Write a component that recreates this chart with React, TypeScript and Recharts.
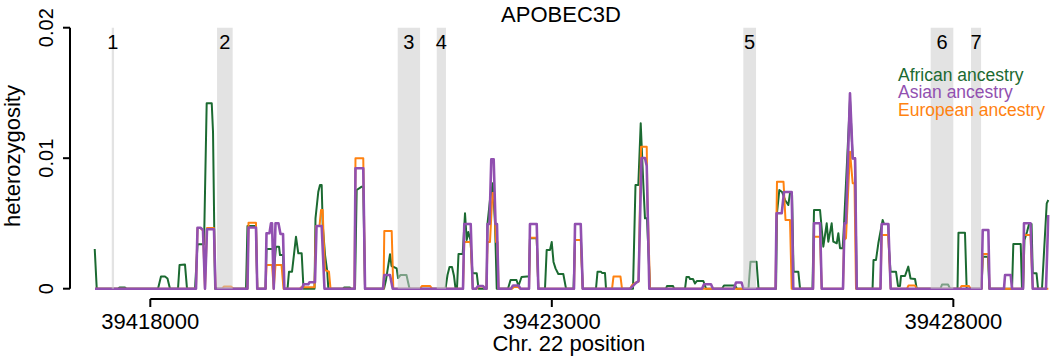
import React from 'react';
import { LineChart, Line, XAxis, YAxis, ReferenceArea, ReferenceLine, Label } from 'recharts';

// heterozygosity along the window, one position/value pair per vertex
const AFR_POS = [
  39417308, 39417333, 39417598, 39417616, 39417685, 39417704, 39418096, 39418133, 39418183, 39418214, 39418245,
  39418345, 39418364, 39418432, 39418457, 39418557, 39418588, 39418669, 39418702, 39418765, 39418781, 39418806,
  39419192, 39419210, 39419316, 39419332, 39419435, 39419447, 39419528, 39419540, 39419565, 39419603, 39419615, 39419653, 39419665,
  39419709, 39419727, 39419765, 39419814, 39419843, 39419885, 39419908,
  39420045, 39420057, 39420092, 39420113, 39420134, 39420147, 39420176, 39420204, 39420217,
  39420400, 39420412, 39420487, 39420499,
  39420549, 39420570, 39420633, 39420652, 39420674,
  39420910, 39420935, 39420985, 39421004, 39421068, 39421085, 39421116, 39421190, 39421228,
  39421676, 39421701, 39421726, 39421757, 39421782, 39421801,
  39421819, 39421838, 39421890, 39421919, 39421940, 39421960, 39421987, 39422012, 39422065, 39422087,
  39422187, 39422199, 39422230, 39422264, 39422293, 39422314,
  39422454, 39422486, 39422560, 39422585, 39422623, 39422691, 39422716, 39422728, 39422812, 39422832,
  39422915, 39422936, 39422977, 39422999, 39423021, 39423046, 39423081, 39423143, 39423177,
  39423270, 39423289, 39423363, 39423385,
  39423550, 39423569, 39423613, 39423625, 39423662, 39423675,
  39424011, 39424042, 39424077, 39424107, 39424139, 39424160, 39424185, 39424223,
  39424422, 39424435, 39424509, 39424522,
  39424659, 39424677, 39424708, 39424721, 39424758, 39424783, 39424808, 39424887, 39424920,
  39425119, 39425144, 39425281, 39425306,
  39425449, 39425474, 39425549, 39425574,
  39425792, 39425804, 39425833, 39425867, 39425904, 39425945, 39425966, 39425991, 39426010, 39426070, 39426091,
  39426246, 39426265, 39426340, 39426381, 39426423, 39426443, 39426485, 39426505, 39426548, 39426568, 39426589, 39426622,
  39426639, 39426713, 39426747, 39426776, 39426797,
  39426994, 39427006, 39427037, 39427066, 39427120, 39427137, 39427190, 39427199, 39427218, 39427286, 39427311, 39427336,
  39427348, 39427398, 39427439, 39427467, 39427523, 39427544,
  39427840, 39427859, 39427934, 39427959,
  39428052, 39428064, 39428145, 39428166,
  39428351, 39428366, 39428432, 39428448,
  39428731, 39428747, 39428839, 39428855,
  39428868, 39428886, 39428917, 39428943, 39428974, 39428989, 39429036, 39429055, 39429104, 39429163, 39429183,
];
const AFR_HET = [
  0.00304, 0, 0, 0.00009, 0.00009, 0, 0, 0.00093, 0.00093, 0.00078, 0,
  0, 0.00182, 0.00185, 0, 0, 0.0034, 0.0034, 0.01421, 0.01421, 0.01201, 0,
  0, 0.0048, 0.0048, 0, 0, 0.00304, 0.00304, 0.00143, 0.00322, 0.00322, 0.00258, 0.00258, 0,
  0, 0.0013, 0.0013, 0.00398, 0.00271, 0.00271, 0,
  0, 0.00539, 0.00743, 0.00795, 0.00795, 0.00488, 0.00258, 0.00128, 0,
  0, 0.00009, 0.00009, 0,
  0, 0.00756, 0.00782, 0.00782, 0,
  0, 0.00067, 0.00264, 0.00174, 0.00156, 0.00082, 0.00105, 0.00105, 0,
  0, 0.00105, 0.00166, 0.00166, 0.00097, 0,
  0, 0.00266, 0.00266, 0.00578, 0.00373, 0.00434, 0.00373, 0.00118, 0.00118, 0,
  0, 0.00496, 0.0068, 0.00808, 0.00496, 0,
  0, 0.00067, 0.00067, 0.00021, 0.0009, 0.00093, 0.00093, 0.00386, 0.00386, 0,
  0, 0.00297, 0.00297, 0.00358, 0.00205, 0.00156, 0.00113, 0.00113, 0,
  0, 0.00373, 0.00373, 0,
  0, 0.0013, 0.0013, 0.0012, 0.0012, 0,
  0, 0.00795, 0.00795, 0.01267, 0.00808, 0.00539, 0.00539, 0,
  0, 0.00021, 0.00021, 0,
  0, 0.0009, 0.0009, 0.00074, 0.00074, 0.0004, 0.00059, 0.00059, 0,
  0, 0.00025, 0.00025, 0,
  0, 0.00207, 0.00207, 0,
  0, 0.0058, 0.00756, 0.00741, 0.0068, 0.00641, 0.00733, 0.00733, 0.0013, 0.0013, 0,
  0, 0.00603, 0.00603, 0.00322, 0.00501, 0.0036, 0.00501, 0.0036, 0.00348, 0.00425, 0.0031, 0.0031,
  0.00496, 0.01446, 0.00999, 0.00999, 0,
  0, 0.0022, 0.0022, 0.00348, 0.00526, 0.00496, 0.00496, 0.00297, 0.0013, 0.0013, 0.00021, 0.00021,
  0.00097, 0.00097, 0.00169, 0.00078, 0.00074, 0,
  0, 0.00032, 0.00032, 0,
  0, 0.00429, 0.00429, 0,
  0, 0.00245, 0.00245, 0,
  0, 0.00343, 0.00343, 0,
  0, 0.00373, 0.00434, 0.00496, 0.00496, 0.00118, 0.00118, 0, 0, 0.00654, 0.0068,
];

const ASN_POS = [
  39417311, 39418569, 39418588, 39418625, 39418656, 39418681, 39418706, 39418793, 39418812,
  39419210, 39419223, 39419316, 39419332,
  39419435, 39419447, 39419484, 39419503, 39419516, 39419537, 39419559, 39419596, 39419621, 39419653, 39419669,
  39419889, 39419908, 39419968, 39419983, 39420032, 39420051, 39420070, 39420134, 39420169,
  39420543, 39420555, 39420652, 39420674,
  39420898, 39420914, 39420985, 39421019,
  39421894, 39421910, 39421990, 39422015,
  39422056, 39422081, 39422143, 39422168,
  39422187, 39422199, 39422224, 39422246, 39422276, 39422299, 39422317, 39422336,
  39422492, 39422517, 39422585, 39422610,
  39422716, 39422728, 39422812, 39422832,
  39423276, 39423289, 39423360, 39423385,
  39423974, 39424011, 39424048, 39424080, 39424117, 39424160, 39424182, 39424214,
  39424870, 39424895, 39424982, 39425007,
  39425269, 39425294, 39425362, 39425387,
  39425786, 39425798, 39425863, 39425891, 39425987, 39426007,
  39426253, 39426265, 39426340, 39426361,
  39426626, 39426645, 39426663, 39426713, 39426747, 39426776, 39426797,
  39427093, 39427108, 39427190, 39427220,
  39428351, 39428366, 39428436, 39428451,
  39428631, 39428644, 39428714, 39428731,
  39428868, 39428880, 39428961, 39428989,
  39429154, 39429183,
];
const ASN_HET = [
  0, 0, 0.00467, 0.00467, 0.0045, 0, 0.00455, 0.00455, 0,
  0, 0.00469, 0.00469, 0,
  0, 0.00425, 0.00425, 0.00501, 0.00501, 0, 0.00501, 0.00501, 0.00419, 0.00419, 0,
  0, 0.00034, 0.00034, 0.00049, 0.00049, 0.00049, 0.0048, 0.0048, 0,
  0, 0.00923, 0.00923, 0,
  0, 0.00105, 0.00105, 0,
  0, 0.00496, 0.00496, 0,
  0, 0.00021, 0.00021, 0,
  0, 0.00496, 0.00496, 0.00992, 0.00992, 0.00496, 0.00496, 0,
  0, 0.00025, 0.00025, 0,
  0, 0.00496, 0.00496, 0,
  0, 0.00496, 0.00496, 0,
  0, 0.00021, 0.00044, 0.00059, 0.01002, 0.01002, 0.0094, 0,
  0, 0.00034, 0.00034, 0,
  0, 0.00048, 0.00048, 0,
  0, 0.00578, 0.00578, 0.00741, 0.00741, 0,
  0, 0.00501, 0.00501, 0,
  0, 0.00501, 0.00501, 0.01497, 0.00999, 0.00999, 0,
  0, 0.00496, 0.00496, 0,
  0, 0.0045, 0.0045, 0,
  0, 0.00105, 0.00105, 0,
  0, 0.00501, 0.00501, 0,
  0, 0.00565,
];

const EUR_POS = [
  39417311, 39418557, 39418569, 39418588, 39418625, 39418656, 39418681, 39418706, 39418793, 39418812,
  39418893, 39418918, 39419005, 39419030,
  39419210, 39419223, 39419316, 39419332,
  39419435, 39419447, 39419516, 39419537, 39419559, 39419634, 39419659,
  39419864, 39419877, 39420045, 39420063, 39420107, 39420126, 39420147, 39420157, 39420176, 39420225, 39420244,
  39420543, 39420555, 39420652, 39420674,
  39420904, 39420914, 39421006, 39421026,
  39421359, 39421384, 39421483, 39421508,
  39421894, 39421910, 39421990, 39422015,
  39422068, 39422087, 39422149, 39422168,
  39422187, 39422199, 39422230, 39422261, 39422280, 39422305, 39422324, 39422336,
  39422504, 39422529, 39422579, 39422604,
  39422716, 39422728, 39422812, 39422832,
  39423276, 39423289, 39423360, 39423385,
  39423750, 39423768, 39423855, 39423874,
  39423974, 39423999, 39424055, 39424080, 39424111, 39424182, 39424189, 39424223,
  39425786, 39425804, 39425885, 39425910, 39425966, 39425987,
  39426253, 39426265, 39426340, 39426361,
  39426626, 39426639, 39426663, 39426713, 39426747, 39426769, 39426788,
  39427093, 39427108, 39427190, 39427220,
  39427423, 39427442, 39427523, 39427542,
  39428083, 39428102, 39428195, 39428214,
  39428351, 39428366, 39428436, 39428451,
  39428868, 39428880, 39428961, 39428989,
  39429183,
];
const EUR_HET = [
  0, 0, 0.00013, 0.00465, 0.00465, 0.00446, 0, 0.00465, 0.00465, 0,
  0, 0.00017, 0.00017, 0,
  0, 0.00506, 0.00506, 0,
  0, 0.00182, 0.00182, 0, 0.00182, 0.00182, 0,
  0, 0.00011, 0.00011, 0.0048, 0.0048, 0.00603, 0.00603, 0.00411, 0.00143, 0.0013, 0,
  0, 0.00999, 0.00999, 0,
  0, 0.00442, 0.00442, 0,
  0, 0.00021, 0.00021, 0,
  0, 0.00358, 0.00358, 0,
  0, 0.00017, 0.00017, 0,
  0, 0.00358, 0.00358, 0.00733, 0.00733, 0.00358, 0.00358, 0,
  0, 0.00013, 0.00013, 0,
  0, 0.00391, 0.00391, 0,
  0, 0.00373, 0.00373, 0,
  0, 0.00093, 0.00093, 0,
  0, 0.00028, 0.00051, 0.00054, 0.01088, 0.01088, 0.00718, 0,
  0, 0.0082, 0.0082, 0.00526, 0.00526, 0,
  0, 0.00398, 0.00398, 0,
  0, 0.00373, 0.00386, 0.0105, 0.00808, 0.00808, 0,
  0, 0.00411, 0.00411, 0,
  0, 0.00025, 0.00025, 0,
  0, 0.00021, 0.00021, 0,
  0, 0.00266, 0.00266, 0,
  0, 0.00411, 0.00411, 0,
  0,
];

// numbered grey regions
const REGION_LABELS = ['1', '2', '3', '4', '5', '6', '7'];
const REGION_START = [39417520, 39418831, 39421081, 39421567, 39425385, 39427718, 39428220];
const REGION_END = [39417548, 39419026, 39421359, 39421682, 39425543, 39428000, 39428345];

const SERIES_NAMES = ['African ancestry', 'Asian ancestry', 'European ancestry'];
const SERIES_COLORS = ['#1b6a31', '#9150b0', '#ff8210'];

const X_TICKS = [39418000, 39423000, 39428000];
const Y_TICKS = [0, 0.01, 0.02];
const X_MIN = 39417000;
const X_MAX = 39429200;
const Y_MIN = -0.00079;
const Y_MAX = 0.02;

const toRows = (pos: number[], het: number[]) => pos.map((p, i) => ({ pos: p, het: het[i] }));

const afrRows = toRows(AFR_POS, AFR_HET);
const asnRows = toRows(ASN_POS, ASN_HET);
const eurRows = toRows(EUR_POS, EUR_HET);

const YTick = ({ x, y, payload }: any) => (
  <text x={x} y={y} transform={`rotate(-90 ${x} ${y})`} textAnchor="middle" fontSize={20} fill="#000">
    {String(payload.value)}
  </text>
);

export default function App() {
  return (
    <div
      style={{
        position: 'relative',
        width: 1050,
        height: 356,
        background: '#fff',
        fontFamily: '"Liberation Sans", Arial, sans-serif',
      }}
    >
      <style>{'body{margin:0}'}</style>
      <LineChart width={1050} height={356} margin={{ top: 27.7, right: 0.3, bottom: 0, left: 0 }}>
        <XAxis
          type="number"
          dataKey="pos"
          domain={[X_MIN, X_MAX]}
          ticks={X_TICKS}
          interval={0}
          allowDataOverflow
          height={57}
          axisLine={false}
          tickLine={{ stroke: '#000', strokeWidth: 2 }}
          tickSize={8}
          tickMargin={6}
          tick={{ fontSize: 22, fill: '#000' }}
        >
          <Label value="Chr. 22 position" position="insideBottom" offset={5} dx={9} fontSize={22} fill="#000" />
        </XAxis>
        <YAxis
          type="number"
          domain={[Y_MIN, Y_MAX]}
          ticks={Y_TICKS}
          interval={0}
          allowDataOverflow
          width={70}
          axisLine={false}
          tickLine={{ stroke: '#000', strokeWidth: 2 }}
          tickSize={7}
          tickMargin={10}
          tick={<YTick />}
        >
          <Label
            value="heterozygosity"
            content={(props: any) => (
              <text x={19.5} y={156} transform="rotate(-90 19.5 156)" textAnchor="middle" fontSize={22} fill="#000">
                {props.value}
              </text>
            )}
          />
        </YAxis>

        {/* R-style detached axis lines */}
        <ReferenceLine
          segment={[{ x: X_TICKS[0], y: Y_MIN }, { x: X_TICKS[2], y: Y_MIN }]}
          stroke="#000"
          strokeWidth={2}
          ifOverflow="visible"
        />
        <ReferenceLine
          segment={[{ x: X_MIN, y: 0 }, { x: X_MIN, y: Y_MAX }]}
          stroke="#000"
          strokeWidth={2}
          ifOverflow="visible"
        />

        <Line data={afrRows} dataKey="het" type="linear" stroke={SERIES_COLORS[0]} strokeWidth={2}
          strokeLinejoin="round" dot={false} activeDot={false} isAnimationActive={false} />
        <Line data={eurRows} dataKey="het" type="linear" stroke={SERIES_COLORS[2]} strokeWidth={2}
          strokeLinejoin="round" dot={false} activeDot={false} isAnimationActive={false} />
        <Line data={asnRows} dataKey="het" type="linear" stroke={SERIES_COLORS[1]} strokeWidth={2.6}
          strokeLinejoin="round" dot={false} activeDot={false} isAnimationActive={false} />

        {REGION_LABELS.map((lab, i) => (
          <ReferenceArea
            key={lab}
            x1={REGION_START[i]}
            x2={REGION_END[i]}
            y1={0}
            y2={Y_MAX}
            fill="#cccccc"
            fillOpacity={0.55}
            stroke="none"
            zIndex={1000}
            label={{ value: lab, position: 'insideTop', offset: 7.4, fontSize: 20, fill: '#000' }}
          />
        ))}
      </LineChart>

      <div
        style={{
          position: 'absolute',
          left: 461,
          top: 3.9,
          width: 200,
          textAlign: 'center',
          fontSize: 22,
          lineHeight: '22px',
          color: '#000',
        }}
      >
        APOBEC3D
      </div>

      <div style={{ position: 'absolute', left: 898, top: 66.8, fontSize: 17.5, lineHeight: '17.4px' }}>
        {SERIES_NAMES.map((name, i) => (
          <div key={name} style={{ color: SERIES_COLORS[i], whiteSpace: 'nowrap' }}>
            {name}
          </div>
        ))}
      </div>
    </div>
  );
}
